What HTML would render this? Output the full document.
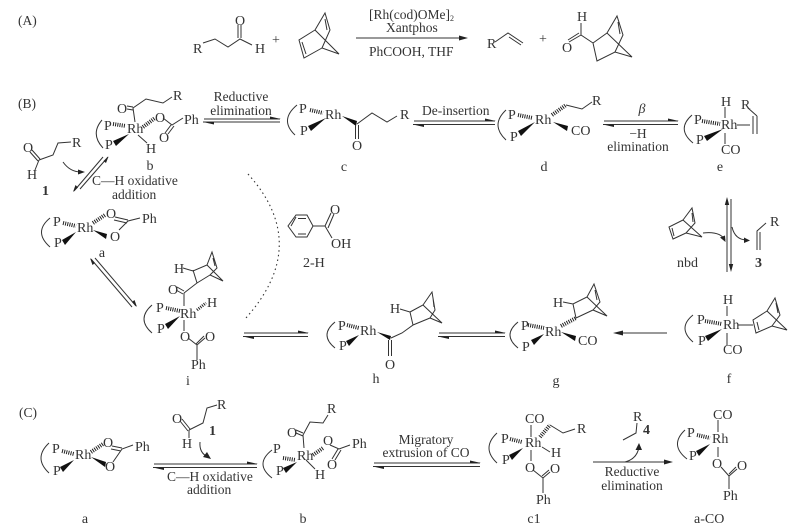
<!DOCTYPE html>
<html>
<head>
<meta charset="utf-8">
<style>
html,body{margin:0;padding:0;background:#fff;width:800px;height:530px;overflow:hidden}
svg{display:block;filter:blur(.35px)}
text{font-family:"Liberation Serif",serif;font-size:14px;fill:#333}
text.t{font-size:13.5px}
.m{text-anchor:middle}
.b{font-weight:bold}
path.l,line,polyline{fill:none;stroke:#333;stroke-width:1}
.w{fill:#111;stroke:none}
.h{fill:none;stroke:#222;stroke-width:4;stroke-dasharray:1 1.2}
.hh{fill:none;stroke:#222;stroke-width:3;stroke-dasharray:1 1.2}
.a{fill:#222;stroke:none}
</style>
</head>
<body>
<svg width="800" height="530" viewBox="0 0 800 530" xmlns="http://www.w3.org/2000/svg">
<rect width="800" height="530" fill="#fff"/>

<!-- A -->
<text x="18" y="25" class="t">(A)</text>
<text x="193" y="53">R</text>
<path class="l" d="M203,43L215,39L228,47L240,39L252,45M238,25V38M241,25V38"/>
<text x="235" y="25">O</text>
<text x="255" y="53">H</text>
<text x="276" y="44" class="m">+</text>
<path class="l" d="M315,30L325,13L330,30L322,48L339,54L315,30M322,48L304,58L299,40L315,30M325,19L327,30M302,42L306,54"/>
<line x1="356" y1="38" x2="462" y2="38"/><path class="a" d="M468,38L459,35.500V40.500Z"/>
<text x="369" y="19" class="t">[Rh(cod)OMe]<tspan font-size="8" dy="2">2</tspan></text>
<text x="386" y="32" class="t">Xantphos</text>
<text x="369" y="56" class="t">PhCOOH, THF</text>
<text x="487" y="48">R</text>
<path class="l" d="M495,42L508,33L523,43M509,37L521,45"/>
<text x="543" y="43" class="m">+</text>
<text x="577" y="21">H</text>
<path class="l" d="M581,23V35L593,43M581,35L569,42M579,33L568,40"/>
<text x="562" y="52">O</text>
<path class="l" d="M593,43L597,61L615,52L632,57L607,33L593,43M607,33L617,16L623,35L615,52M618,22L620,34"/>

<!-- B -->
<text x="18" y="108" class="t">(B)</text>

<!-- b -->
<path class="l" d="M102,120Q90,134 103,148"/>
<text x="104" y="130">P</text><text x="105" y="149">P</text>
<text x="127" y="133">Rh</text>
<line class="h" x1="113" y1="124" x2="126" y2="126"/>
<path class="w" d="M129,134L113,141L116,146Z"/>
<path class="l" d="M135,122L133,108L146,99L163,103L172,97M127,106L133,107M127,109L133,110"/>
<text x="117" y="113">O</text>
<text x="173" y="100">R</text>
<line class="h" x1="143" y1="127" x2="155" y2="118"/>
<text x="155" y="122">O</text>
<path class="l" d="M163,118L172,125L183,118M171,125L165,133M174,126L168,134"/>
<text x="159" y="142">O</text>
<text x="184" y="124">Ph</text>
<path class="l" d="M138,135L147,143"/>
<text x="146" y="153">H</text>
<text x="150" y="170" class="m">b</text>

<line x1="204" y1="119" x2="280" y2="119"/><path class="a" d="M281,119L270,116.500V119Z"/>
<line x1="203" y1="122" x2="280" y2="122"/><path class="a" d="M203,122L214,124.500V122Z"/>
<text x="241" y="101" class="m t">Reductive</text>
<text x="241" y="115" class="m t">elimination</text>

<!-- c -->
<path class="l" d="M297,105Q279,120 295,135"/>
<text x="299" y="113">P</text><text x="300" y="135">P</text>
<text x="325" y="119">Rh</text>
<line class="h" x1="310" y1="110" x2="323" y2="113"/>
<path class="w" d="M326,118L308,126L311,131Z"/>
<path class="w" d="M342,116L357,121L356,126Z"/>
<path class="l" d="M357,124L372,113L387,122L397,116M355.500,125V139M358.500,125V139"/>
<text x="400" y="119">R</text>
<text x="352" y="150">O</text>
<text x="344" y="171" class="m">c</text>

<line x1="414" y1="121" x2="495" y2="121"/><path class="a" d="M496,121L485,118.500V121Z"/>
<line x1="413" y1="124.500" x2="495" y2="124.500"/><path class="a" d="M413,124.500L424,127V124.500Z"/>
<text x="422" y="115" class="t">De-insertion</text>

<!-- d -->
<path class="l" d="M506,110Q490,125 506,140"/>
<text x="508" y="119">P</text><text x="510" y="141">P</text>
<text x="535" y="124">Rh</text>
<line class="h" x1="518" y1="115" x2="533" y2="118"/>
<path class="w" d="M535,122L518,131L521,136Z"/>
<line class="h" x1="552" y1="115" x2="566" y2="105"/>
<path class="l" d="M566,105L582,109L592,102"/>
<text x="592" y="105">R</text>
<path class="w" d="M553,122L568,126L567,131Z"/>
<text x="571" y="135">CO</text>
<text x="544" y="171" class="m">d</text>

<line x1="604" y1="121" x2="678" y2="121"/><path class="a" d="M679,121L668,118.500V121Z"/>
<line x1="603" y1="124.500" x2="678" y2="124.500"/><path class="a" d="M603,124.500L614,127V124.500Z"/>
<text x="642" y="113" class="m" font-style="italic">β</text>
<text x="638" y="138" class="m t">−H</text>
<text x="638" y="151" class="m t">elimination</text>

<!-- e -->
<text x="721" y="106">H</text>
<line x1="725" y1="107" x2="725" y2="118"/>
<text x="721" y="129">Rh</text>
<path class="l" d="M692,115Q676,129 693,143"/>
<text x="694" y="124">P</text><text x="696" y="144">P</text>
<line class="h" x1="702" y1="121" x2="720" y2="124"/>
<path class="w" d="M723,129L704,136L707,141Z"/>
<line x1="725" y1="133" x2="725" y2="144"/>
<text x="721" y="154">CO</text>
<path class="l" d="M737,125H750M753,116V134M757,116V134M748,108L757,116"/>
<text x="741" y="109">R</text>
<text x="720" y="171" class="m">e</text>

<!-- vertical equilibrium -->
<line x1="727" y1="199" x2="727" y2="272"/>
<path class="a" d="M727,197L724.800,205H729.200Z"/>
<line x1="731" y1="199" x2="731" y2="270"/>
<path class="a" d="M731,272L728.800,264H733.200Z"/>
<path class="l" d="M683,220L692,208L695,223L686,233L702,237L683,220M686,233L673,239L669,227L683,220M692,213L693,222M672,228L674,236"/>
<path class="l" d="M703,233Q720,231 725,240"/><path class="a" d="M725.500,242L720,237.500L725,235.500Z"/>
<path class="l" d="M732,227Q735,240 747,240"/><path class="a" d="M750,240.500L744,237.500L744,243Z"/>
<text x="677" y="267">nbd</text>
<path class="l" d="M766,223L757,231V250M760,232V250"/>
<text x="770" y="226">R</text>
<text x="755" y="267" class="b">3</text>

<!-- f -->
<text x="723" y="304">H</text>
<line x1="727" y1="306" x2="727" y2="316"/>
<text x="723" y="329">Rh</text>
<path class="l" d="M693,315Q677,328 693,342"/>
<text x="697" y="324">P</text><text x="698" y="345">P</text>
<line class="h" x1="705" y1="321" x2="722" y2="324"/>
<path class="w" d="M722,329L705,336L708,341Z"/>
<line x1="727" y1="333" x2="727" y2="345"/>
<text x="723" y="354">CO</text>
<line x1="738" y1="325" x2="753" y2="325"/>
<path class="l" d="M767,311L753,320L756,333L772,326L787,330L767,311L775,298L780,315L772,326M757,322L759,330M776,303L778,313"/>
<text x="729" y="383" class="m">f</text>

<line x1="667" y1="333" x2="616" y2="333"/><path class="a" d="M613,333L623,330.500V335.500Z"/>

<!-- g -->
<text x="545" y="336">Rh</text>
<path class="l" d="M518,322Q502,335 518,348"/>
<text x="521" y="330">P</text><text x="522" y="351">P</text>
<line class="h" x1="528" y1="325" x2="544" y2="328"/>
<path class="w" d="M544,334L531,340L534,345Z"/>
<line class="h" x1="561" y1="326" x2="576" y2="318"/>
<path class="w" d="M561,332L576,336L575,341Z"/>
<text x="578" y="345">CO</text>
<text x="553" y="307">H</text>
<path class="l" d="M563,302L573,304L587,297L594,284L600,302L593,310L607,316L587,297M593,310L576,318L573,304M595,290L597,300"/>
<text x="556" y="385" class="m">g</text>

<line x1="439" y1="333" x2="505" y2="333"/><path class="a" d="M506,333L495,330.500V333Z"/>
<line x1="438" y1="336.500" x2="505" y2="336.500"/><path class="a" d="M438,336.500L449,339V336.500Z"/>

<!-- h -->
<text x="360" y="335">Rh</text>
<path class="l" d="M335,322Q319,335 335,348"/>
<text x="338" y="330">P</text><text x="339" y="350">P</text>
<line class="h" x1="347" y1="325" x2="359" y2="328"/>
<path class="w" d="M359,335L346,341L349,346Z"/>
<path class="w" d="M377,332L391,336L390,340Z"/>
<path class="l" d="M388.500,340V356M391.500,340V356M391,338L402,333L413,325L410,312L400,309M410,312L423,305L432,292L435,310L430,318L442,323L423,305M430,318L413,325M433,298L434,307"/>
<text x="390" y="313">H</text>
<text x="385" y="369">O</text>
<text x="376" y="383" class="m">h</text>

<line x1="244" y1="333" x2="308" y2="333"/><path class="a" d="M309,333L298,330.500V333Z"/>
<line x1="243" y1="336.500" x2="308" y2="336.500"/><path class="a" d="M243,336.500L254,339V336.500Z"/>

<!-- i -->
<text x="180" y="318">Rh</text>
<path class="l" d="M152,305Q136,319 152,333"/>
<text x="156" y="312">P</text><text x="157" y="333">P</text>
<line class="h" x1="166" y1="308" x2="180" y2="311"/>
<path class="w" d="M180,316L165,324L168,329Z"/>
<line x1="184" y1="306" x2="184" y2="293"/>
<path class="l" d="M177,287L184,291M176,290L183,294"/>
<text x="168" y="294">O</text>
<path class="l" d="M184,293L197,283L193,270M183,268L193,271L207,265L212,252L217,268L210,275L223,281L207,265M210,275L197,283M213,258L215,266"/>
<text x="174" y="273">H</text>
<line class="hh" x1="197" y1="310" x2="206" y2="303"/>
<text x="207" y="307">H</text>
<line x1="184" y1="320" x2="184" y2="331"/>
<text x="180" y="341">O</text>
<path class="l" d="M188,338L197,345L205,338M196,344L204,336M197,345V360"/>
<text x="205" y="341">O</text>
<text x="191" y="369">Ph</text>
<text x="188" y="385" class="m">i</text>

<!-- dotted arc -->
<path d="M248,174Q312,245 245,319" fill="none" stroke="#333" stroke-width="1.100" stroke-dasharray="1.500 3.200"/>

<!-- benzoic acid -->
<path class="l" d="M296,215H307L313,226L307,237H296L288,226ZM298,218.500H306M298,234H306M291,226L296,217M313,226H325L332,238M325,226L331,213M328,228L334,214"/>
<text x="330" y="214">O</text>
<text x="331" y="248">OH</text>
<text x="303" y="267">2-H</text>

<!-- compound 1 -->
<text x="23" y="152">O</text>
<path class="l" d="M32,150L40,159M30,152L38,161M39,160L35,170M39,160L53,155L58,143L71,142"/>
<text x="72" y="147">R</text>
<text x="27" y="179">H</text>
<text x="42" y="195" class="b">1</text>
<path class="l" d="M63,162Q70,172 81,172"/><path class="a" d="M85,172L78,169.500V174.500Z"/>
<line x1="103" y1="157" x2="74" y2="191"/><path class="a" d="M73,192L75.500,185L78,187.500Z"/>
<line x1="108" y1="157" x2="80" y2="189"/><path class="a" d="M108.500,156.500L106,163L103.500,161Z"/>
<text x="92" y="185" class="t">C—H oxidative</text>
<text x="112" y="199" class="t">addition</text>

<!-- a -->
<text x="77" y="232">Rh</text>
<path class="l" d="M50,218Q33,232 50,247"/>
<text x="53" y="226">P</text><text x="54" y="247">P</text>
<line class="h" x1="63" y1="223" x2="76" y2="226"/>
<path class="w" d="M76,232L62,240L65,245Z"/>
<line class="h" x1="93" y1="223" x2="105" y2="215"/>
<text x="106" y="218">O</text>
<path class="w" d="M93,230L107,234L106,239Z"/>
<text x="110" y="241">O</text>
<path class="l" d="M115,217L128,220M114,220L127,223M119,230L128,221L140,218"/>
<text x="142" y="223">Ph</text>
<text x="102" y="257" class="m">a</text>

<!-- a-i arrows -->
<line x1="91" y1="259" x2="132" y2="307"/><path class="a" d="M90,258L92.500,265L95,263Z"/>
<line x1="95" y1="258" x2="136" y2="306"/><path class="a" d="M137,307L134.500,300L132,302Z"/>

<!-- C -->
<text x="19" y="417" class="t">(C)</text>

<!-- a in C -->
<text x="75" y="459">Rh</text>
<path class="l" d="M49,443Q33,458 49,473"/>
<text x="52" y="453">P</text><text x="53" y="475">P</text>
<line class="h" x1="62" y1="451" x2="74" y2="454"/>
<path class="w" d="M74,460L60,467L63,472Z"/>
<line class="h" x1="91" y1="452" x2="103" y2="444"/>
<text x="103" y="447">O</text>
<path class="w" d="M91,457L106,462L105,467Z"/>
<text x="105" y="471">O</text>
<path class="l" d="M112,446L122,448M111,449L121,451M113,462L122,449L133,445"/>
<text x="135" y="451">Ph</text>
<text x="85" y="523" class="m">a</text>

<line x1="154" y1="464" x2="257" y2="464"/><path class="a" d="M258,464L247,461.500V464Z"/>
<line x1="153" y1="467.500" x2="257" y2="467.500"/><path class="a" d="M153,467.500L164,470V467.500Z"/>
<text x="167" y="481" class="t">C—H oxidative</text>
<text x="187" y="494" class="t">addition</text>

<text x="172" y="423">O</text>
<path class="l" d="M182,419L190,429M180,421L188,431M189,430V438M189,430L203,423L207,408L217,405"/>
<text x="217" y="409">R</text>
<text x="182" y="448">H</text>
<text x="209" y="435" class="b">1</text>
<path class="l" d="M200,442Q199,453 208,457"/><path class="a" d="M211,459L203,457L207,452Z"/>

<!-- b in C -->
<text x="297" y="460">Rh</text>
<path class="l" d="M272,450Q254,464 272,478"/>
<text x="273" y="453">P</text><text x="276" y="475">P</text>
<line class="h" x1="283" y1="458" x2="296" y2="460"/>
<path class="w" d="M297,462L283,468L286,473Z"/>
<line x1="304" y1="448" x2="303" y2="435"/>
<path class="l" d="M296,430L303,433M296,433L303,436M303,435L310,422L323,423L328,415"/>
<text x="287" y="437">O</text>
<text x="327" y="413">R</text>
<line class="h" x1="313" y1="455" x2="323" y2="448"/>
<text x="323" y="445">O</text>
<path class="l" d="M330,445L339,449L350,445M338,449L332,459M341,450L335,460"/>
<text x="352" y="448">Ph</text>
<text x="327" y="469">O</text>
<line x1="306" y1="460" x2="315" y2="469"/>
<text x="315" y="479">H</text>
<text x="303" y="523" class="m">b</text>

<line x1="374" y1="463" x2="480" y2="463"/><path class="a" d="M481,463L470,460.500V463Z"/>
<line x1="373" y1="466.500" x2="480" y2="466.500"/><path class="a" d="M373,466.500L384,469V466.500Z"/>
<text x="426" y="444" class="m t">Migratory</text>
<text x="426" y="457" class="m t">extrusion of CO</text>

<!-- c1 -->
<text x="525" y="447">Rh</text>
<path class="l" d="M497,433Q481,448 497,463"/>
<text x="501" y="443">P</text><text x="502" y="464">P</text>
<line class="h" x1="510" y1="439" x2="522" y2="442"/>
<path class="w" d="M523,448L509,455L512,460Z"/>
<line x1="531" y1="425" x2="531" y2="437"/>
<text x="525" y="423">CO</text>
<line class="h" x1="540" y1="437" x2="550" y2="425"/>
<path class="l" d="M550,425L563,433L575,429"/>
<text x="577" y="433">R</text>
<line x1="542" y1="447" x2="550" y2="452"/>
<text x="551" y="457">H</text>
<line x1="531" y1="450" x2="531" y2="461"/>
<text x="525" y="472">O</text>
<path class="l" d="M533,470L543,478L550,472M542,476L549,470M543,478V493"/>
<text x="550" y="473">O</text>
<text x="536" y="504">Ph</text>
<text x="534" y="523" class="m">c1</text>

<line x1="593" y1="462" x2="668" y2="462"/><path class="a" d="M673,462L664,459.500V464.500Z"/>
<text x="632" y="476" class="m t">Reductive</text>
<text x="632" y="490" class="m t">elimination</text>
<path class="l" d="M625,462Q637,459 639,447"/><path class="a" d="M639,443L635.500,450L642,450Z"/>
<text x="633" y="421">R</text>
<path class="l" d="M637,423L636,433L623,440"/>
<text x="643" y="434" class="b">4</text>

<!-- a-CO -->
<text x="712" y="443">Rh</text>
<text x="713" y="419">CO</text>
<line x1="718" y1="420" x2="718" y2="432"/>
<path class="l" d="M685,430Q669,445 687,459"/>
<text x="687" y="437">P</text><text x="689" y="460">P</text>
<line class="h" x1="697" y1="435" x2="710" y2="438"/>
<path class="w" d="M710,444L696,451L699,456Z"/>
<line x1="718" y1="447" x2="718" y2="457"/>
<text x="712" y="468">O</text>
<path class="l" d="M721,467L729,476L737,469M729,474L736,467M729,476V489"/>
<text x="737" y="470">O</text>
<text x="723" y="500">Ph</text>
<text x="694" y="523">a-CO</text>
</svg>
</body>
</html>
